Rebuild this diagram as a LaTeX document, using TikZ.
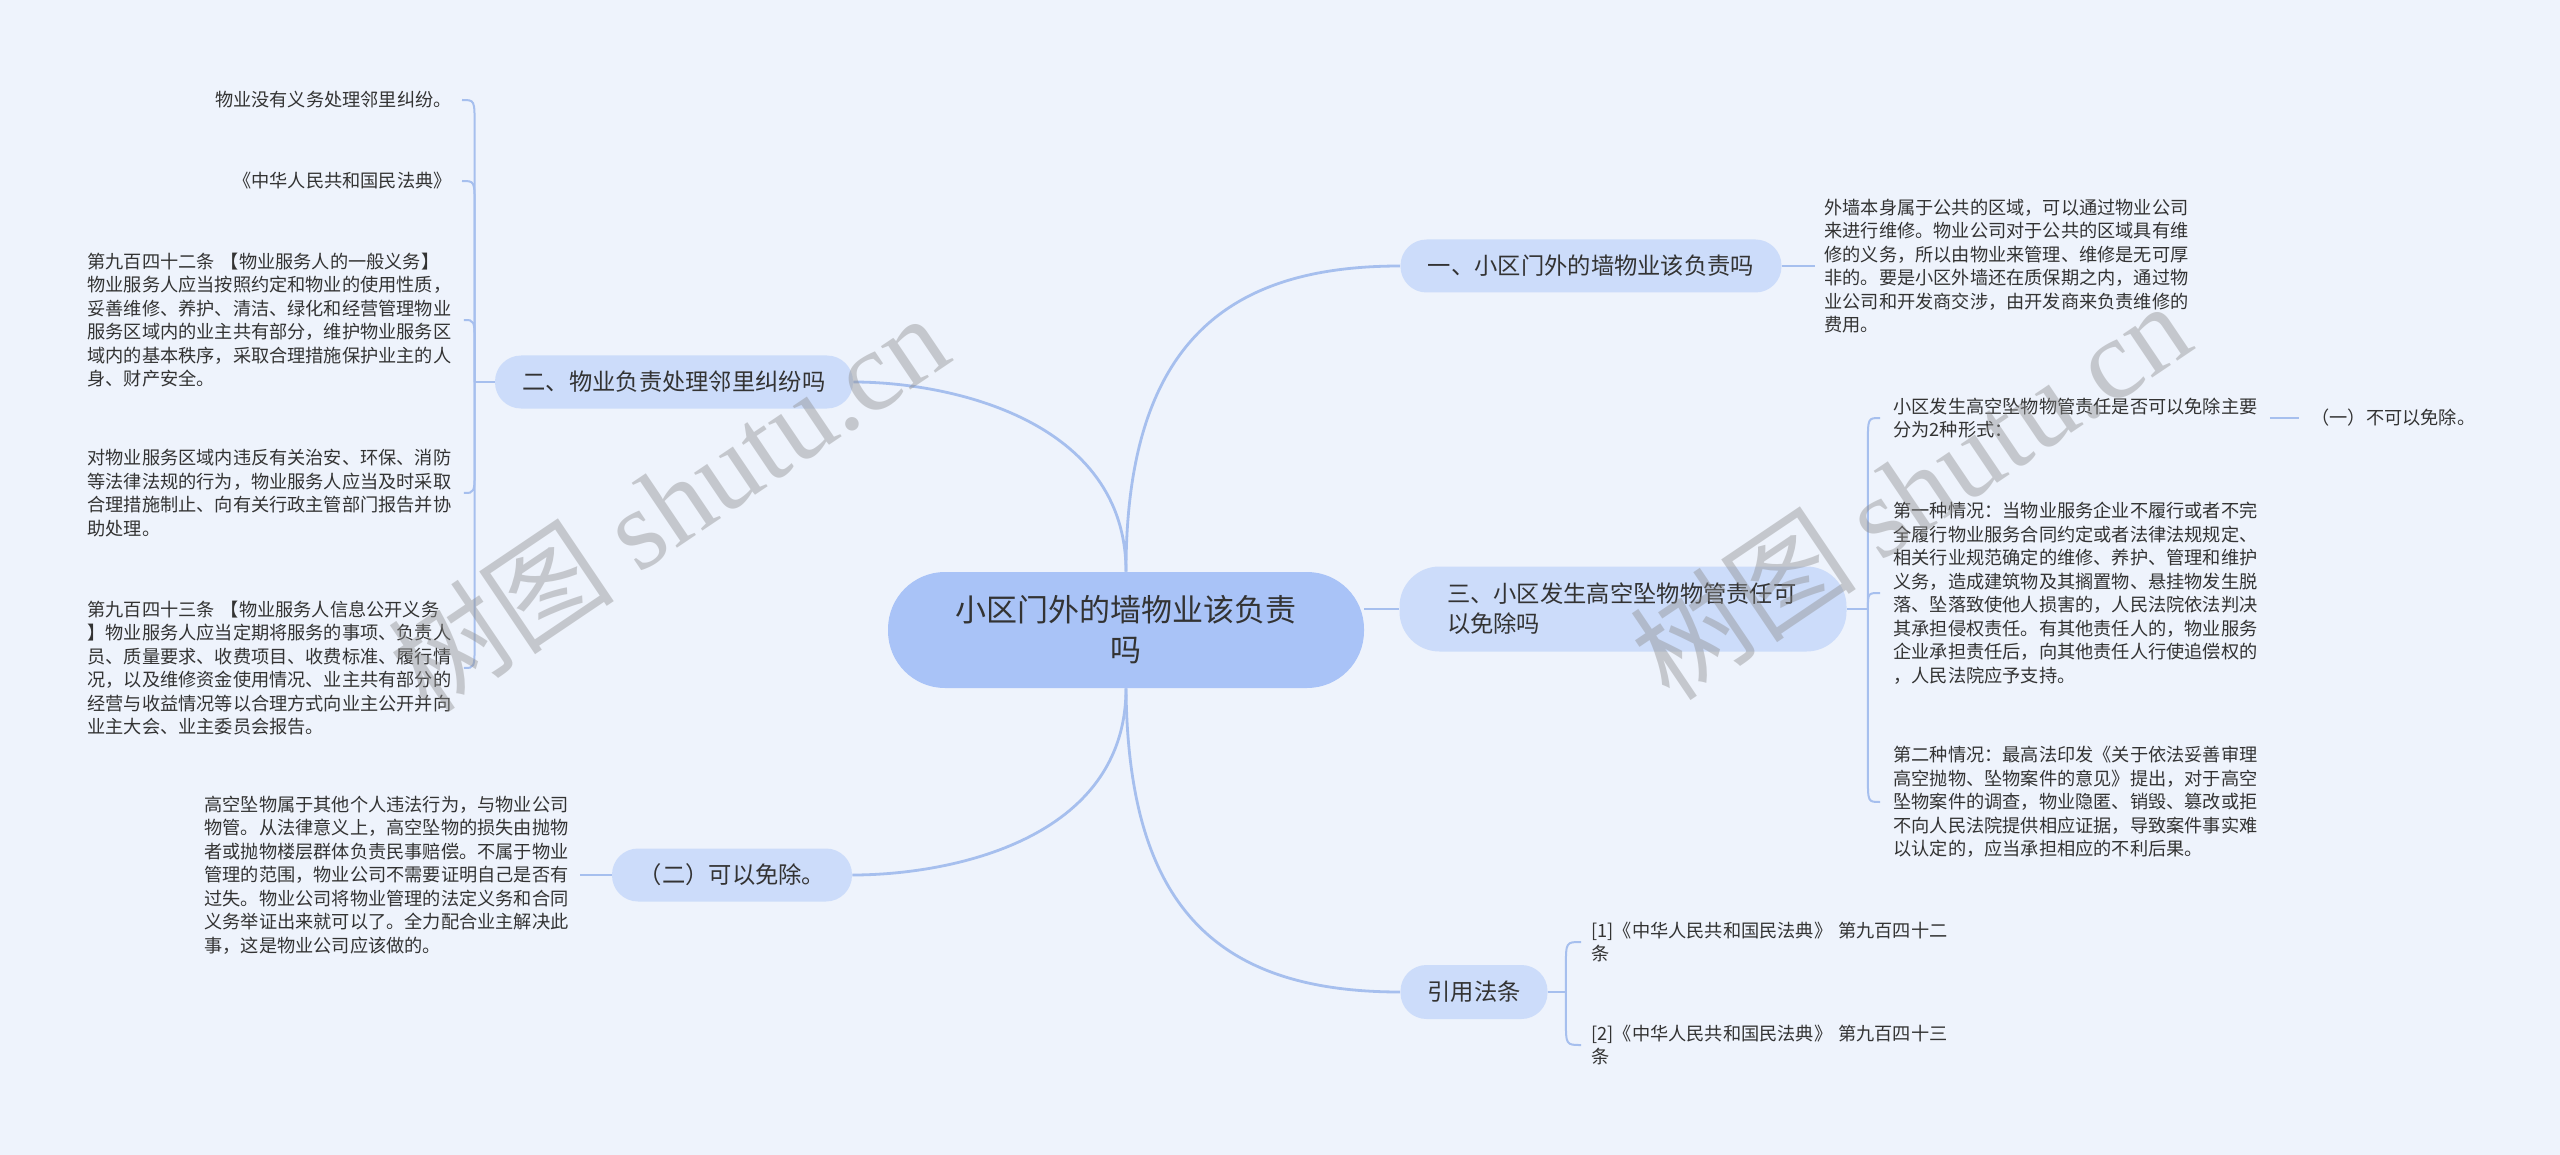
\documentclass[tikz,border=0pt]{standalone}
\usepackage{fontspec}
\setmainfont{Noto Sans CJK SC}
\newfontfamily\wmlatin{Liberation Serif}
\usetikzlibrary{calc}
\definecolor{bgc}{HTML}{EEF3FC}
\definecolor{lvl}{HTML}{CCDCFA}
\definecolor{cen}{HTML}{A9C3F7}
\definecolor{lnc}{HTML}{A6BFEE}
\definecolor{txt}{HTML}{333333}
\tikzset{
  leaf/.style={font=\fontsize{9.1pt}{11.75pt}\selectfont, text=txt, inner sep=0pt, align=left, text width=183pt},
  leafs/.style={font=\fontsize{9.1pt}{11.75pt}\selectfont, text=txt, inner sep=0pt},
  mainn/.style={fill=lvl, text=txt, font=\fontsize{11.65pt}{15pt}\selectfont, inner sep=0pt, minimum height=26.5pt, rounded corners=13pt},
  cennode/.style={fill=cen, text=txt, font=\fontsize{15.5pt}{20pt}\selectfont, inner sep=0pt, align=center, minimum width=238pt, minimum height=58pt, rounded corners=28.5pt},
  conn/.style={draw=lnc, line width=1.4pt},
  br/.style={draw=lnc, line width=1pt},
  wm/.style={text=black!45, opacity=0.42, rotate=34, inner sep=0pt}
}
\begin{document}
\begin{tikzpicture}[x=0.5pt,y=-0.5pt]
\useasboundingbox (0,0) rectangle (2560,1155);
\fill[bgc] (0,0) rectangle (2560,1155);

% central
\node[cennode] (c) at (1126,630) {小区门外的墙物业该负责\\吗};

% level one
\node[mainn, minimum width=190.5pt] (n1) at (1591,266) {一、小区门外的墙物业该负责吗};
\node[mainn, minimum width=179pt] (n2) at (674,382) {二、物业负责处理邻里纠纷吗};
\node[mainn, minimum width=223.5pt, minimum height=42.5pt, rounded corners=20pt, text width=176pt, align=left] (n3) at (1623,609) {三、小区发生高空坠物物管责任可\\以免除吗};
\node[mainn, minimum width=120pt] (nb) at (732,875) {（二）可以免除。};
\node[mainn, minimum width=73.5pt, minimum height=27pt] (nr) at (1474,992) {引用法条};

% leaves of n2
\node[leafs, anchor=east] (a1) at (452,100) {物业没有义务处理邻里纠纷。};
\node[leafs, anchor=east] (a2) at (452,181) {《中华人民共和国民法典》};
\node[leaf, anchor=west] (a3) at (87,320) {第九百四十二条 【物业服务人的一般义务】\\物业服务人应当按照约定和物业的使用性质，\\妥善维修、养护、清洁、绿化和经营管理物业\\服务区域内的业主共有部分，维护物业服务区\\域内的基本秩序，采取合理措施保护业主的人\\身、财产安全。};
\node[leaf, anchor=west] (a4) at (87,493) {对物业服务区域内违反有关治安、环保、消防\\等法律法规的行为，物业服务人应当及时采取\\合理措施制止、向有关行政主管部门报告并协\\助处理。};
\node[leaf, anchor=west] (a5) at (87,668) {第九百四十三条 【物业服务人信息公开义务\\】物业服务人应当定期将服务的事项、负责人\\员、质量要求、收费项目、收费标准、履行情\\况，以及维修资金使用情况、业主共有部分的\\经营与收益情况等以合理方式向业主公开并向\\业主大会、业主委员会报告。};

% leaf of n1
\node[leaf, anchor=west] (b1) at (1824,266) {外墙本身属于公共的区域，可以通过物业公司\\来进行维修。物业公司对于公共的区域具有维\\修的义务，所以由物业来管理、维修是无可厚\\非的。要是小区外墙还在质保期之内，通过物\\业公司和开发商交涉，由开发商来负责维修的\\费用。};

% leaves of n3
\node[leaf, anchor=west] (c1) at (1893,418) {小区发生高空坠物物管责任是否可以免除主要\\分为2种形式：};
\node[leafs, anchor=west] (c1a) at (2311,418) {（一）不可以免除。};
\node[leaf, anchor=west] (c2) at (1893,593) {第一种情况：当物业服务企业不履行或者不完\\全履行物业服务合同约定或者法律法规规定、\\相关行业规范确定的维修、养护、管理和维护\\义务，造成建筑物及其搁置物、悬挂物发生脱\\落、坠落致使他人损害的，人民法院依法判决\\其承担侵权责任。有其他责任人的，物业服务\\企业承担责任后，向其他责任人行使追偿权的\\，人民法院应予支持。};
\node[leaf, anchor=west] (c3) at (1893,802) {第二种情况：最高法印发《关于依法妥善审理\\高空抛物、坠物案件的意见》提出，对于高空\\坠物案件的调查，物业隐匿、销毁、篡改或拒\\不向人民法院提供相应证据，导致案件事实难\\以认定的，应当承担相应的不利后果。};

% leaf of nb
\node[leaf, anchor=west] (bl) at (204,875) {高空坠物属于其他个人违法行为，与物业公司\\物管。从法律意义上，高空坠物的损失由抛物\\者或抛物楼层群体负责民事赔偿。不属于物业\\管理的范围，物业公司不需要证明自己是否有\\过失。物业公司将物业管理的法定义务和合同\\义务举证出来就可以了。全力配合业主解决此\\事，这是物业公司应该做的。};

% leaves of nr
\node[leaf, anchor=west] (r1) at (1591,942) {[1]《中华人民共和国民法典》 第九百四十二\\条};
\node[leaf, anchor=west] (r2) at (1591,1045) {[2]《中华人民共和国民法典》 第九百四十三\\条};

% main connectors
\draw[conn] (c.north) .. controls (1126,340) and (1230,266) .. (n1.west);
\draw[conn] (c.north) .. controls (1126,420) and (950,382) .. (n2.east);
\draw[conn] (c.east |- n3.west) -- (n3.west);
\draw[conn] (c.south) .. controls (1126,840) and (950,875) .. (nb.east);
\draw[conn] (c.south) .. controls (1128,900) and (1210,992) .. (nr.west);

% stubs
\draw[br, line width=1.4pt] (n1.east) -- ($(b1.west)+(-9,0)$);
\draw[br, line width=1.4pt] (nb.west) -- ($(bl.east)+(9,0)$);
\draw[br, line width=1.4pt] ($(c1.east)+(10,0)$) -- ($(c1a.west)+(-12,0)$);

% bracket of n2
\coordinate (s2) at ($(n2.west)+(-20,0)$);
\draw[br] (n2.west) -- (s2);
\draw[br] (s2) -- ($(s2 |- a1.east)+(0,25)$) .. controls (s2 |- a1.east) .. ($(a1.east)+(10,0)$);
\draw[br] (s2) -- ($(s2 |- a2.east)+(0,25)$) .. controls (s2 |- a2.east) .. ($(a2.east)+(10,0)$);
\draw[br] (s2) -- ($(s2 |- a3.east)+(0,25)$) .. controls (s2 |- a3.east) .. ($(a3.east)+(10,0)$);
\draw[br] (s2) -- ($(s2 |- a4.east)+(0,-25)$) .. controls (s2 |- a4.east) .. ($(a4.east)+(10,0)$);
\draw[br] (s2) -- ($(s2 |- a5.east)+(0,-25)$) .. controls (s2 |- a5.east) .. ($(a5.east)+(10,0)$);

% bracket of n3
\coordinate (s3) at ($(n3.east)+(21,0)$);
\draw[br] (n3.east) -- (s3);
\draw[br] (s3) -- ($(s3 |- c1.west)+(0,25)$) .. controls (s3 |- c1.west) .. ($(c1.west)+(-13,0)$);
\draw[br] (s3) .. controls (s3 |- c2.west) .. ($(c2.west)+(-13,0)$);
\draw[br] (s3) -- ($(s3 |- c3.west)+(0,-25)$) .. controls (s3 |- c3.west) .. ($(c3.west)+(-13,0)$);

% bracket of nr
\coordinate (s4) at ($(nr.east)+(18,0)$);
\draw[br] (nr.east) -- (s4);
\draw[br] (s4) -- ($(s4 |- r1.west)+(0,25)$) .. controls (s4 |- r1.west) .. ($(r1.west)+(-10,0)$);
\draw[br] (s4) -- ($(s4 |- r2.west)+(0,-25)$) .. controls (s4 |- r2.west) .. ($(r2.west)+(-10,0)$);

% watermarks
\node[wm] (w1) at (668,502) {\fontsize{57pt}{57pt}\selectfont 树图 \wmlatin shutu.cn};
\node[wm] (w2) at (1910,490) {\fontsize{57pt}{57pt}\selectfont 树图 \wmlatin shutu.cn};
\end{tikzpicture}
\end{document}
